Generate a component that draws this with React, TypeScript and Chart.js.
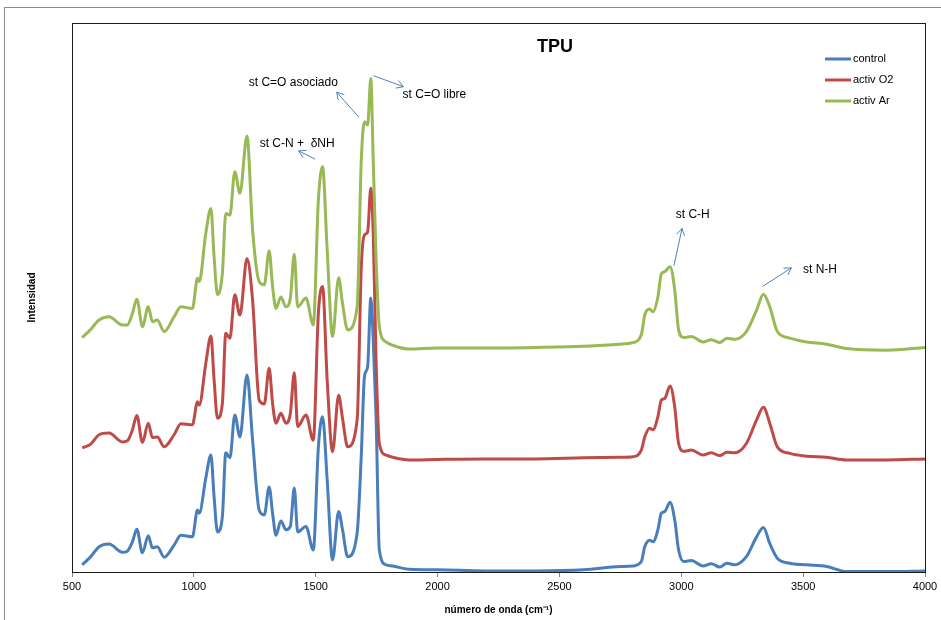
import React, { useEffect, useRef } from 'react';
import { Chart, registerables } from 'chart.js';

Chart.register(...registerables);

// Wavenumbers (cm-1) at which the spectra were read
const wavenumbers = [
  542, 577, 611, 652, 707, 727, 748, 766, 789, 813, 830, 850, 878, 919, 947, 994,
  1015, 1022, 1049, 1070, 1083, 1097, 1117, 1131, 1148, 1168, 1189, 1218, 1241,
  1268, 1289, 1309, 1323, 1337, 1357, 1378, 1396, 1412, 1426, 1460, 1490,
  1511, 1528, 1547, 1569, 1594, 1610, 1631, 1670, 1687, 1700, 1713, 1726, 1736, 1748, 1761, 1789, 1816, 1884,
  2000, 2200, 2400, 2600, 2750, 2802, 2836,
  2850, 2870, 2884, 2904, 2918, 2932, 2954, 2973, 2989, 3010,
  3041, 3089, 3123, 3158, 3187, 3219, 3267, 3309, 3337, 3363, 3394, 3445, 3514, 3596, 3678, 3843, 4000,
];

const control = [
  1.3, 2.8, 4.6, 5.1, 3.6, 3.8, 5.5, 7.8, 3.5, 6.6, 4.4, 4.6, 2.7, 4.9, 6.7, 6.4,
  11.3, 10.7, 17.1, 21.3, 13.7, 7.3, 10.1, 21.7, 20.8, 28.6, 24.6, 35.9, 24.0,
  11.3, 10.4, 15.5, 10.7, 6.7, 9.3, 7.7, 8.3, 15.3, 7.3, 8.3, 4.0,
  22.8, 28.3, 16.8, 2.2, 11.0, 7.7, 2.8, 7.1, 21.3, 35.6, 37.4, 49.9, 42.3, 27.7, 4.0, 1.3, 1.1, 0.5,
  0.4, 0.2, 0.2, 0.4, 1.0, 1.1, 1.9,
  4.6, 5.8, 5.5, 7.7, 10.7, 11.0, 12.7, 9.5, 4.0, 1.9,
  2.1, 1.1, 1.5, 0.9, 1.6, 1.3, 2.8, 6.4, 8.1, 5.2, 2.5, 1.6, 1.3, 1.0, 0.1, 0.1, 0.2,
];

const activO2 = [
  22.6, 23.3, 25.0, 25.3, 23.7, 23.9, 25.9, 28.5, 23.6, 27.1, 24.5, 24.6, 22.8, 25.0, 27.0, 26.8,
  31.0, 30.4, 38.0, 43.0, 35.0, 28.0, 30.7, 43.5, 42.6, 50.5, 46.8, 57.1, 49.5,
  31.3, 30.6, 37.1, 30.7, 27.1, 28.9, 27.1, 28.9, 36.3, 26.5, 28.6, 24.0,
  47.2, 52.0, 35.0, 21.9, 32.2, 28.0, 22.8, 27.7, 55.6, 61.4, 61.9, 69.9, 61.7, 38.0, 23.4, 21.3, 20.9, 20.4,
  20.5, 20.6, 20.6, 20.8, 20.9, 21.0, 22.2,
  24.6, 26.2, 25.9, 28.3, 31.3, 31.6, 33.9, 30.1, 23.4, 22.0,
  22.2, 21.3, 21.7, 21.2, 21.8, 21.7, 23.4, 27.7, 30.0, 27.1, 22.8, 21.6, 21.1, 20.9, 20.4, 20.4, 20.6,
];

const activAr = [
  42.7, 44.2, 45.9, 46.5, 45.0, 45.0, 47.1, 49.7, 44.7, 48.3, 45.6, 45.9, 43.8, 46.5, 48.3, 48.0,
  53.5, 52.9, 61.7, 66.2, 57.4, 50.5, 54.4, 65.3, 65.0, 72.9, 69.0, 79.4, 62.3,
  52.9, 52.3, 58.5, 52.0, 48.0, 50.1, 48.3, 49.9, 57.9, 48.3, 49.9, 45.0,
  67.8, 73.8, 58.7, 42.9, 53.6, 48.9, 44.1, 48.3, 75.0, 82.0, 81.4, 89.9, 75.0, 56.8, 44.7, 41.9, 41.3, 40.6,
  40.8, 40.8, 40.9, 41.1, 41.5, 41.8, 43.2,
  46.8, 47.9, 47.4, 50.1, 54.3, 54.7, 55.6, 51.4, 44.1, 42.7,
  42.9, 41.9, 42.3, 41.8, 42.6, 42.4, 43.8, 47.7, 50.6, 48.3, 43.8, 42.6, 41.9, 41.5, 40.7, 40.4, 40.9,
];

const xTicks = [500, 1000, 1500, 2000, 2500, 3000, 3500, 4000];

const seriesNames = ['control', 'activ O2', 'activ Ar'];
const seriesColors = ['#4A7EBB', '#BE4B48', '#98B954'];

// Band annotations: label position and arrow (from -> to), in data units
const bandLabels = ['st C=O asociado', 'st C=O libre', 'st C-N +  δNH', 'st C-H', 'st N-H'];
const bandLabelX = [1408, 1987, 1424, 3047, 3569];
const bandLabelY = [89.1, 86.9, 78.0, 65.0, 55.0];
const arrowFromX = [1676, 1737, 1498, 2970, 3333];
const arrowFromY = [82.9, 90.4, 75.2, 55.8, 52.0];
const arrowToX = [1586, 1860, 1430, 3003, 3452];
const arrowToY = [87.4, 88.4, 76.7, 62.6, 55.4];

const FONT = '"Liberation Sans", Arial, sans-serif';

const decor = {
  id: 'decor',
  afterDraw(chart: any) {
    const { ctx, chartArea: a, scales } = chart;
    const xs = scales.x;
    const ys = scales.y;
    ctx.save();
    // outer frame
    ctx.strokeStyle = '#8a8a8a';
    ctx.lineWidth = 1;
    ctx.strokeRect(4.5, 7.5, 2000, 2000);
    // plot frame
    ctx.strokeStyle = '#1a1a1a';
    ctx.strokeRect(Math.round(a.left) + 0.5, Math.round(a.top) + 0.5, Math.round(a.right - a.left), Math.round(a.bottom - a.top));

    // title
    ctx.fillStyle = '#000';
    ctx.font = `bold 18px ${FONT}`;
    ctx.textAlign = 'center';
    ctx.textBaseline = 'middle';
    ctx.fillText('TPU', a.left + 483, a.top + 24);

    // legend
    ctx.font = `11px ${FONT}`;
    ctx.textAlign = 'left';
    seriesNames.forEach((name, i) => {
      const y = a.top + 36 + i * 21;
      ctx.strokeStyle = seriesColors[i];
      ctx.lineWidth = 3;
      ctx.beginPath();
      ctx.moveTo(a.right - 100, y);
      ctx.lineTo(a.right - 74, y);
      ctx.stroke();
      ctx.fillStyle = '#000';
      ctx.fillText(name, a.right - 72, y);
    });

    // band annotations
    ctx.font = `12px ${FONT}`;
    ctx.textAlign = 'center';
    ctx.fillStyle = '#000';
    bandLabels.forEach((t, i) => {
      ctx.fillText(t, xs.getPixelForValue(bandLabelX[i]), ys.getPixelForValue(bandLabelY[i]));
      const x1 = xs.getPixelForValue(arrowFromX[i]);
      const y1 = ys.getPixelForValue(arrowFromY[i]);
      const x2 = xs.getPixelForValue(arrowToX[i]);
      const y2 = ys.getPixelForValue(arrowToY[i]);
      ctx.strokeStyle = '#4F81BD';
      ctx.lineWidth = 1;
      ctx.beginPath();
      ctx.moveTo(x1, y1);
      ctx.lineTo(x2, y2);
      const ang = Math.atan2(y2 - y1, x2 - x1);
      const L = 8;
      for (const d of [Math.PI * 0.83, -Math.PI * 0.83]) {
        ctx.moveTo(x2, y2);
        ctx.lineTo(x2 + L * Math.cos(ang + d), y2 + L * Math.sin(ang + d));
      }
      ctx.stroke();
    });
    ctx.restore();
  },
};

export default function App() {
  const ref = useRef<HTMLCanvasElement>(null);
  useEffect(() => {
    if (!ref.current) return;
    const all = [control, activO2, activAr];
    const chart = new Chart(ref.current, {
      type: 'line',
      data: {
        datasets: all.map((vals, i) => ({
          label: seriesNames[i],
          data: wavenumbers.map((x, j) => ({ x, y: vals[j] })),
          borderColor: seriesColors[i],
          backgroundColor: seriesColors[i],
          borderWidth: 3,
          pointRadius: 0,
          fill: false,
          cubicInterpolationMode: 'monotone' as const,
          order: 2 - i,
        })),
      },
      options: {
        responsive: false,
        animation: false,
        events: [],
        layout: { padding: { left: 4, top: 23, right: 16, bottom: 0 } },
        plugins: {
          legend: { display: false },
          title: { display: false },
          tooltip: { enabled: false },
        },
        scales: {
          x: {
            type: 'linear',
            min: 500,
            max: 4000,
            afterBuildTicks: (s: any) => {
              s.ticks = xTicks.map((v) => ({ value: v }));
            },
            afterFit: (s: any) => {
              s.height = 48;
            },
            ticks: {
              autoSkip: false,
              maxRotation: 0,
              padding: 3,
              color: '#000',
              font: { family: FONT, size: 11 },
              callback: (v: any) => String(v),
            },
            grid: { drawOnChartArea: false, drawTicks: true, tickLength: 5, color: '#868686' },
            border: { display: true, color: '#1a1a1a' },
            title: {
              display: true,
              text: 'número de onda (cm⁻¹)',
              color: '#000',
              font: { family: FONT, size: 10, weight: 'bold' },
              padding: { top: 0, bottom: 4 },
            },
          },
          y: {
            type: 'linear',
            min: 0,
            max: 100,
            afterFit: (s: any) => {
              s.width = 68;
            },
            ticks: { display: false },
            grid: { display: false },
            border: { display: true, color: '#1a1a1a' },
            title: {
              display: true,
              text: 'Intensidad',
              color: '#000',
              font: { family: FONT, size: 10, weight: 'bold' },
              padding: { top: 22, bottom: 0 },
            },
          },
        },
      },
      plugins: [decor],
    });
    return () => chart.destroy();
  }, []);
  return (
    <div style={{ position: 'fixed', left: 0, top: 0, width: 941, height: 620, background: '#fff' }}>
      <canvas ref={ref} width={941} height={620} style={{ display: 'block' }} />
    </div>
  );
}
